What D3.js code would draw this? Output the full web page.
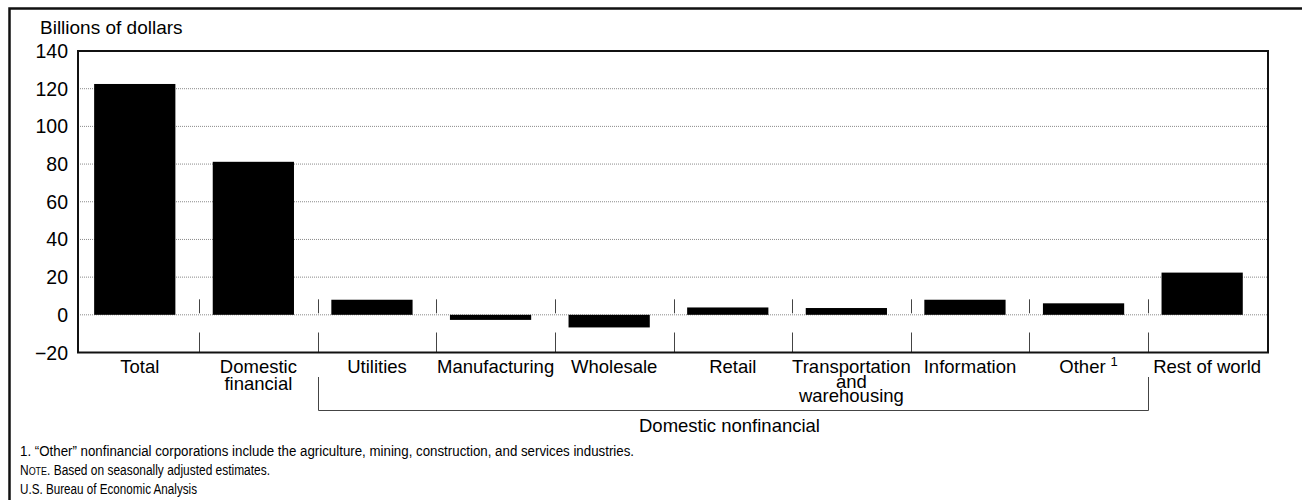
<!DOCTYPE html>
<html>
<head>
<meta charset="utf-8">
<script src="https://cdn.jsdelivr.net/npm/d3@7"></script>
<style>
  html, body { margin: 0; padding: 0; background: #fff; }
  svg { display: block; font-family: "Liberation Sans", Arial, Helvetica, sans-serif; }
</style>
</head>
<body>
<svg id="chart" width="1302" height="500"></svg>
<script>
// ---- Data ----
const categories = ["Total", "Domestic financial", "Utilities", "Manufacturing", "Wholesale",
  "Retail", "Transportation and warehousing", "Information", "Other", "Rest of world"];
const labelLines = [["Total"], ["Domestic", "financial"], ["Utilities"], ["Manufacturing"], ["Wholesale"],
  ["Retail"], ["Transportation", "and", "warehousing"], ["Information"], ["Other"], ["Rest of world"]];
const values = [122.5, 81.2, 8.0, -2.7, -6.7, 3.9, 3.6, 8.0, 6.1, 22.4];
const yTicks = [-20, 0, 20, 40, 60, 80, 100, 120, 140];
const groupLabel = "Domestic nonfinancial";
const groupFirst = "Utilities", groupLast = "Other";
const unitLabel = "Billions of dollars";
const footnotes = [
  "1. \u201COther\u201D nonfinancial corporations include the agriculture, mining, construction, and services industries.",
  ". Based on seasonally adjusted estimates.",
  "U.S. Bureau of Economic Analysis"
];

// ---- Layout ----
const svg = d3.select("#chart");
const plot = { left: 78, right: 1268, top: 51, bottom: 352.5 };

const y = d3.scaleLinear().domain([-20, 140]).range([plot.bottom, plot.top]);
const x = d3.scaleBand().domain(categories).range([80.5, 1266.5]).padding(0);
const bw = x.bandwidth();

// Outer frame (top and left edges visible)
svg.append("path").attr("d", "M9.5,520 L9.5,8.5 L1310,8.5")
  .attr("fill", "none").attr("stroke", "#111").attr("stroke-width", 2.5);

// Unit label
svg.append("text").attr("x", 40).attr("y", 34).attr("font-size", 19).text(unitLabel);

// Gridlines
svg.append("g").selectAll("line").data(yTicks.filter(d => d > -20 && d < 140)).join("line")
  .attr("x1", plot.left).attr("x2", plot.right)
  .attr("y1", d => y(d)).attr("y2", d => y(d))
  .attr("stroke", "#8a8a8a").attr("stroke-width", 1).attr("stroke-dasharray", "1,1");

// Y tick labels
svg.append("g").selectAll("text").data(yTicks).join("text")
  .attr("x", 68).attr("y", d => y(d)).attr("dy", "0.36em")
  .attr("text-anchor", "end").attr("font-size", 19.5)
  .text(d => d < 0 ? "\u2212" + Math.abs(d) : d);

// Category separator ticks
const seps = categories.slice(1);
const sepG = svg.append("g").attr("stroke", "#444").attr("stroke-width", 1);
sepG.selectAll("line.up").data(seps).join("line").attr("class", "up")
  .attr("x1", d => Math.round(x(d)) + 0.5).attr("x2", d => Math.round(x(d)) + 0.5)
  .attr("y1", y(0) - 15.5).attr("y2", y(0) - 1.5);
sepG.selectAll("line.dn").data(seps).join("line").attr("class", "dn")
  .attr("x1", d => Math.round(x(d)) + 0.5).attr("x2", d => Math.round(x(d)) + 0.5)
  .attr("y1", y(-20) - 20).attr("y2", y(-20));

// Bars
svg.append("g").selectAll("rect").data(values).join("rect")
  .attr("x", (d, i) => x(categories[i]) + 0.115 * bw)
  .attr("width", 0.685 * bw)
  .attr("y", d => y(Math.max(0, d)))
  .attr("height", d => Math.abs(y(d) - y(0)))
  .attr("fill", "#000");

// Plot frame
svg.append("rect").attr("x", plot.left).attr("y", plot.top)
  .attr("width", plot.right - plot.left).attr("height", plot.bottom - plot.top)
  .attr("fill", "none").attr("stroke", "#111").attr("stroke-width", 2);

// Category labels
const catG = svg.append("g").attr("font-size", 18.5).attr("text-anchor", "middle");
labelLines.forEach((lines, i) => {
  const cx = x(categories[i]) + bw / 2;
  const lh = lines.length > 2 ? 14.5 : 17;
  const t = catG.append("text").attr("x", cx).attr("y", 373);
  lines.forEach((ln, j) => {
    t.append("tspan").attr("x", cx).attr("dy", j === 0 ? 0 : lh).text(ln);
  });
  if (categories[i] === "Other") {
    t.append("tspan").attr("dx", 5).attr("dy", -7).attr("font-size", 13).text("1");
  }
});

// Bracket for Domestic nonfinancial
const bx1 = Math.round(x(groupFirst)) + 0.5;
const bx2 = Math.round(x(groupLast) + bw) + 0.5;
svg.append("path").attr("d", `M${bx1},377 L${bx1},410.5 L${bx2},410.5 L${bx2},377`)
  .attr("fill", "none").attr("stroke", "#444").attr("stroke-width", 1);
svg.append("text").attr("x", (bx1 + bx2) / 2 - 4).attr("y", 432)
  .attr("text-anchor", "middle").attr("font-size", 18.5).text(groupLabel);

// Footnotes (condensed)
const fn = svg.append("g").attr("font-size", 14);
fn.append("text").attr("x", 20).attr("y", 456)
  .attr("textLength", 614).attr("lengthAdjust", "spacingAndGlyphs").text(footnotes[0]);
const note = fn.append("text").attr("x", 20).attr("y", 475)
  .attr("textLength", 250).attr("lengthAdjust", "spacingAndGlyphs");
note.append("tspan").text("N");
note.append("tspan").attr("font-size", 10.5).text("OTE");
note.append("tspan").text(footnotes[1]);
fn.append("text").attr("x", 20).attr("y", 494)
  .attr("textLength", 177).attr("lengthAdjust", "spacingAndGlyphs").text(footnotes[2]);
</script>
</body>
</html>
